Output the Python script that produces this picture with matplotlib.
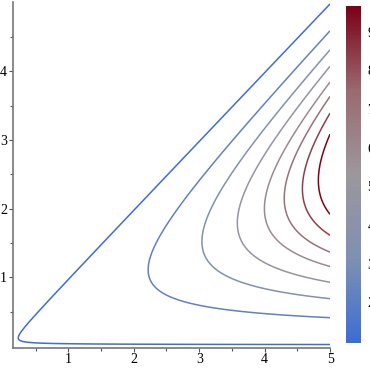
import numpy as np
import matplotlib.pyplot as plt
from matplotlib.colors import LinearSegmentedColormap, Normalize
from matplotlib.cm import ScalarMappable

# CES-type surface: blend of y and (x - y)
rho = -0.3
scale = 0.614
levels = [1.001, 1.84, 3.16, 4.53, 5.9, 7.1, 8.36, 9.6]
# colour value of each contour
level_colors = [1.0, 2.23, 3.46, 4.69, 5.91, 7.14, 8.37, 9.6]
cbar_range = (0.95, 9.67)
cbar_ticks = [2, 3, 4, 5, 6, 7, 8, 9]
x_ticks = [1, 2, 3, 4, 5]
y_ticks = [1, 2, 3, 4]

cmap = LinearSegmentedColormap.from_list(
    "bgr", ["#3d6dd3", "#7f90b2", "#9c979c", "#9a6a70", "#7c0015"])
norm = Normalize(*cbar_range)

x = np.linspace(0.15, 5, 1200)
y = np.linspace(0, 5, 1400)
X, Y = np.meshgrid(x, y)
with np.errstate(divide="ignore", invalid="ignore"):
    a = np.where(Y > 0, Y, np.nan) ** rho
    b = np.where(X - Y > 0, X - Y, np.nan) ** rho
    m = (0.5 * a + 0.5 * b) ** (1 / rho)
m = np.nan_to_num(m, nan=0.0)
Z = 1 + scale * m ** 3

plt.rcParams['font.family'] = ['Liberation Serif', 'DejaVu Serif']
fig = plt.figure(figsize=(3.7, 3.7), dpi=100)
ax = fig.add_axes([0.0343, 0.0603, 0.8578, 0.9330])
ax.contour(X, Y, Z, levels=levels, colors=[cmap(norm(v)) for v in level_colors],
           linewidths=1.1)
ax.set_xlim(0.15, 5)
ax.set_ylim(-0.025, 5)
ax.set_xticks(x_ticks)
ax.set_yticks(y_ticks)
ax.set_xticks(np.arange(0.5, 5, 1), minor=True)
ax.set_yticks(np.arange(0.5, 5, 1), minor=True)
for s in ["top", "right"]:
    ax.spines[s].set_visible(False)
for s in ["left", "bottom"]:
    ax.spines[s].set_color("#777777")
    ax.spines[s].set_linewidth(1.2)
ax.tick_params(which="major", length=3, width=0.8, color="#555555",
               labelsize=10, pad=1)
ax.tick_params(which="minor", length=2, width=0.8, color="#555555")

cax = fig.add_axes([0.935, 0.0738, 0.0397, 0.9100])
cb = fig.colorbar(ScalarMappable(norm=norm, cmap=cmap), cax=cax)
cb.set_ticks(cbar_ticks)
cb.outline.set_visible(False)
cax.tick_params(length=0, pad=5, labelsize=10)

fig.savefig("out.png", dpi=100)
